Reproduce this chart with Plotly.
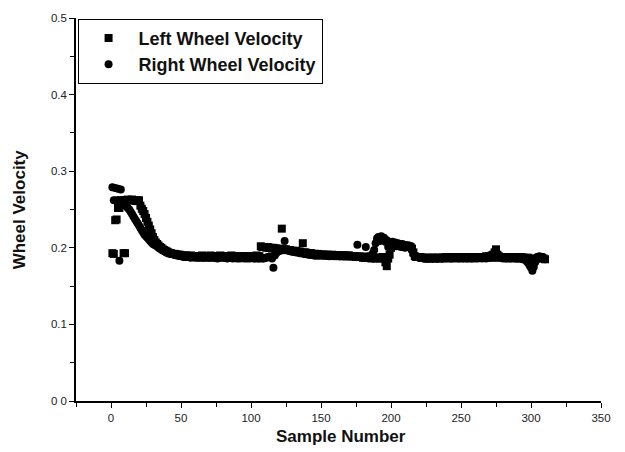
import plotly.graph_objects as go

samples = list(range(1, 311))

left_velocity = [
    0.193, 0.192, 0.236, 0.237, 0.252, 0.252, 0.262, 0.262, 0.193, 0.193,
    0.262, 0.263, 0.262, 0.262, 0.263, 0.262, 0.262, 0.261, 0.262, 0.262,
    0.255, 0.251, 0.248, 0.244, 0.239, 0.234, 0.229, 0.224, 0.219, 0.214,
    0.210, 0.207, 0.205, 0.203, 0.201, 0.200, 0.198, 0.197, 0.196, 0.195,
    0.194, 0.193, 0.193, 0.192, 0.192, 0.192, 0.191, 0.191, 0.191, 0.190,
    0.190, 0.190, 0.189, 0.190, 0.189, 0.189, 0.190, 0.189, 0.189, 0.189,
    0.189, 0.188, 0.189, 0.189, 0.190, 0.189, 0.189, 0.188, 0.189, 0.189,
    0.190, 0.189, 0.189, 0.189, 0.188, 0.189, 0.189, 0.190, 0.189, 0.189,
    0.189, 0.189, 0.188, 0.189, 0.189, 0.190, 0.189, 0.189, 0.188, 0.189,
    0.189, 0.189, 0.189, 0.188, 0.189, 0.189, 0.188, 0.189, 0.189, 0.189,
    0.189, 0.189, 0.189, 0.190, 0.189, 0.189, 0.202, 0.201, 0.201, 0.201,
    0.200, 0.201, 0.200, 0.200, 0.199, 0.200, 0.199, 0.199, 0.198, 0.199,
    0.198, 0.225, 0.198, 0.198, 0.198, 0.197, 0.197, 0.197, 0.196, 0.196,
    0.196, 0.196, 0.195, 0.195, 0.195, 0.194, 0.206, 0.194, 0.194, 0.193,
    0.193, 0.193, 0.193, 0.192, 0.192, 0.192, 0.192, 0.192, 0.191, 0.191,
    0.191, 0.191, 0.191, 0.190, 0.191, 0.190, 0.190, 0.191, 0.190, 0.190,
    0.190, 0.190, 0.190, 0.190, 0.189, 0.190, 0.190, 0.189, 0.190, 0.190,
    0.189, 0.189, 0.189, 0.189, 0.188, 0.188, 0.188, 0.188, 0.188, 0.187,
    0.187, 0.188, 0.187, 0.187, 0.187, 0.186, 0.187, 0.187, 0.186, 0.187,
    0.187, 0.186, 0.187, 0.188, 0.186, 0.181, 0.176, 0.186, 0.191, 0.200,
    0.204, 0.205, 0.204, 0.205, 0.204, 0.203, 0.204, 0.203, 0.203, 0.202,
    0.203, 0.202, 0.202, 0.201, 0.199, 0.194, 0.189, 0.188, 0.188, 0.188,
    0.188, 0.187, 0.187, 0.187, 0.186, 0.187, 0.187, 0.186, 0.187, 0.187,
    0.186, 0.187, 0.187, 0.187, 0.186, 0.187, 0.187, 0.187, 0.188, 0.187,
    0.187, 0.187, 0.187, 0.188, 0.187, 0.187, 0.187, 0.188, 0.187, 0.187,
    0.187, 0.187, 0.188, 0.187, 0.187, 0.187, 0.188, 0.187, 0.188, 0.187,
    0.188, 0.188, 0.187, 0.188, 0.188, 0.188, 0.188, 0.189, 0.188, 0.189,
    0.189, 0.190, 0.191, 0.194, 0.198, 0.191, 0.189, 0.188, 0.188, 0.188,
    0.188, 0.187, 0.187, 0.188, 0.187, 0.188, 0.188, 0.187, 0.188, 0.187,
    0.187, 0.187, 0.188, 0.187, 0.187, 0.186, 0.187, 0.187, 0.186, 0.185,
    0.183, 0.183, 0.185, 0.186, 0.187, 0.188, 0.188, 0.187, 0.186, 0.185,
]

right_velocity = [
    0.279, 0.262, 0.278, 0.262, 0.277, 0.183, 0.276, 0.262, 0.258, 0.256,
    0.254, 0.252, 0.250, 0.247, 0.244, 0.241, 0.238, 0.235, 0.232, 0.229,
    0.226, 0.223, 0.220, 0.217, 0.215, 0.213, 0.211, 0.209, 0.207, 0.205,
    0.204, 0.203, 0.202, 0.200, 0.199, 0.198, 0.197, 0.196, 0.195, 0.194,
    0.193, 0.193, 0.192, 0.192, 0.191, 0.191, 0.190, 0.190, 0.190, 0.189,
    0.189, 0.188, 0.188, 0.189, 0.188, 0.188, 0.187, 0.188, 0.188, 0.187,
    0.188, 0.187, 0.187, 0.188, 0.187, 0.187, 0.187, 0.188, 0.187, 0.187,
    0.187, 0.188, 0.187, 0.187, 0.187, 0.186, 0.187, 0.187, 0.188, 0.187,
    0.187, 0.187, 0.186, 0.187, 0.187, 0.187, 0.186, 0.187, 0.187, 0.186,
    0.187, 0.186, 0.187, 0.187, 0.186, 0.187, 0.186, 0.187, 0.186, 0.187,
    0.187, 0.186, 0.186, 0.187, 0.186, 0.186, 0.187, 0.186, 0.186, 0.187,
    0.187, 0.188, 0.188, 0.188, 0.186, 0.174, 0.190, 0.193, 0.195, 0.196,
    0.196, 0.197, 0.197, 0.209, 0.197, 0.197, 0.196, 0.196, 0.195, 0.195,
    0.195, 0.194, 0.194, 0.194, 0.193, 0.193, 0.193, 0.192, 0.192, 0.192,
    0.191, 0.191, 0.191, 0.191, 0.190, 0.190, 0.190, 0.190, 0.190, 0.190,
    0.190, 0.190, 0.190, 0.190, 0.190, 0.189, 0.190, 0.190, 0.189, 0.190,
    0.189, 0.190, 0.189, 0.189, 0.190, 0.189, 0.189, 0.189, 0.189, 0.189,
    0.189, 0.189, 0.189, 0.189, 0.189, 0.204, 0.189, 0.189, 0.188, 0.189,
    0.188, 0.201, 0.189, 0.188, 0.189, 0.190, 0.193, 0.197, 0.206, 0.212,
    0.214, 0.209, 0.215, 0.211, 0.213, 0.208, 0.210, 0.201, 0.203, 0.205,
    0.208, 0.204, 0.207, 0.202, 0.206, 0.205, 0.201, 0.205, 0.204, 0.200,
    0.203, 0.203, 0.202, 0.200, 0.197, 0.192, 0.189, 0.188, 0.188, 0.187,
    0.187, 0.187, 0.187, 0.186, 0.186, 0.186, 0.186, 0.187, 0.186, 0.186,
    0.186, 0.187, 0.186, 0.186, 0.187, 0.186, 0.186, 0.187, 0.186, 0.186,
    0.187, 0.186, 0.186, 0.186, 0.187, 0.186, 0.187, 0.186, 0.186, 0.187,
    0.186, 0.186, 0.187, 0.186, 0.186, 0.187, 0.186, 0.186, 0.187, 0.186,
    0.187, 0.186, 0.187, 0.187, 0.186, 0.187, 0.187, 0.186, 0.187, 0.187,
    0.187, 0.187, 0.188, 0.187, 0.187, 0.188, 0.187, 0.187, 0.187, 0.186,
    0.187, 0.186, 0.186, 0.187, 0.186, 0.186, 0.187, 0.186, 0.186, 0.186,
    0.186, 0.186, 0.186, 0.185, 0.185, 0.184, 0.182, 0.180, 0.177, 0.174,
    0.170, 0.175, 0.181, 0.185, 0.188, 0.189, 0.188, 0.187, 0.186, 0.185,
]

x_ticks = [0, 50, 100, 150, 200, 250, 300, 350]
y_ticks = [0.0, 0.1, 0.2, 0.3, 0.4, 0.5]
y_tick_text = ["0 0", "0.1", "0.2", "0.3", "0.4", "0.5"]
x_title = "Sample Number"
y_title = "Wheel Velocity"

FONT = "Liberation Sans, Arial, sans-serif"

fig = go.Figure()
fig.add_trace(go.Scatter(
    x=samples, y=left_velocity, mode="markers", name="<b>Left Wheel Velocity</b>",
    legendgroup="left",
    marker=dict(symbol="square", size=8, color="black", line=dict(width=0)),
))
fig.add_trace(go.Scatter(
    x=samples, y=right_velocity, mode="markers", name="<b>Right Wheel Velocity</b>",
    legendgroup="right",
    marker=dict(symbol="circle", size=8, color="black", line=dict(width=0)),
))

axis_common = dict(
    showgrid=False, zeroline=False, showline=True, linecolor="black",
    linewidth=1.6, ticks="outside", ticklen=5, tickwidth=1.2, tickcolor="black",
    tickfont=dict(family=FONT, size=11.5, color="#222"),
    automargin=False,
)

fig.update_xaxes(
    range=[-25, 350], tickmode="array", tickvals=x_ticks,
    minor=dict(ticks="outside", ticklen=4, tickcolor="black", dtick=25, tick0=0),
    **axis_common,
)
fig.update_yaxes(
    range=[0, 0.5], tickmode="array", tickvals=y_ticks, ticktext=y_tick_text,
    minor=dict(ticks="outside", ticklen=4, tickcolor="black", dtick=0.05, tick0=0),
    **axis_common,
)

fig.add_annotation(
    text="<b>%s</b>" % x_title, xref="paper", yref="paper", x=0.505, y=-0.093,
    xanchor="center", yanchor="middle", showarrow=False,
    font=dict(family=FONT, size=17, color="#111"),
)
fig.add_annotation(
    text="<b>%s</b>" % y_title, xref="paper", yref="paper", x=-0.107, y=0.5,
    xanchor="center", yanchor="middle", showarrow=False, textangle=-90,
    font=dict(family=FONT, size=17, color="#111"),
)

fig.update_layout(
    width=625, height=452,
    margin=dict(l=76, r=24, t=18, b=51),
    plot_bgcolor="white", paper_bgcolor="white",
    showlegend=True,
    legend=dict(
        x=0.003, y=0.998, xanchor="left", yanchor="top",
        bordercolor="black", borderwidth=1, bgcolor="white",
        font=dict(family=FONT, size=18, color="#111"),
        itemwidth=50, traceorder="grouped", tracegroupgap=0,
    ),
)

fig.write_html("out.html")
